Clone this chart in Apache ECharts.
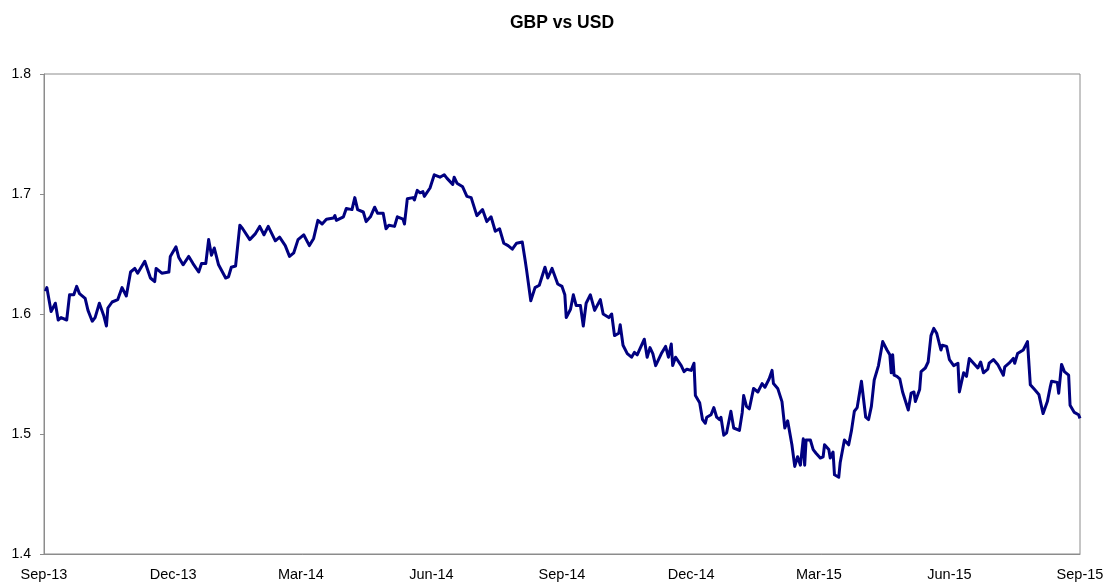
<!DOCTYPE html>
<html>
<head>
<meta charset="utf-8">
<title>GBP vs USD</title>
<script src="https://cdn.jsdelivr.net/npm/echarts@6/dist/echarts.min.js"></script>
<style>
  html, body { margin: 0; padding: 0; background: #fff; }
  #chart { width: 1108px; height: 582px; }
</style>
</head>
<body>
<div id="chart"></div>
<script>
// Observation dates and GBP/USD rates
const dates = [
  '2013-09-02','2013-09-03','2013-09-06','2013-09-09','2013-09-11','2013-09-13','2013-09-17','2013-09-19','2013-09-22','2013-09-24',
  '2013-09-26','2013-09-30','2013-10-02','2013-10-05','2013-10-07','2013-10-10','2013-10-13','2013-10-15','2013-10-16','2013-10-19',
  '2013-10-23','2013-10-26','2013-10-29','2013-11-01','2013-11-04','2013-11-06','2013-11-11','2013-11-15','2013-11-18','2013-11-19',
  '2013-11-23','2013-11-28','2013-11-29','2013-12-03','2013-12-05','2013-12-08','2013-12-12','2013-12-15','2013-12-19','2013-12-21',
  '2013-12-24','2013-12-26','2013-12-28','2013-12-30','2014-01-02','2014-01-07','2014-01-09','2014-01-11','2014-01-14','2014-01-17',
  '2014-01-19','2014-01-24','2014-01-28','2014-01-31','2014-02-03','2014-02-06','2014-02-11','2014-02-14','2014-02-18','2014-02-21',
  '2014-02-24','2014-02-27','2014-03-03','2014-03-07','2014-03-10','2014-03-13','2014-03-16','2014-03-19','2014-03-24','2014-03-25',
  '2014-03-26','2014-03-31','2014-04-02','2014-04-06','2014-04-08','2014-04-10','2014-04-14','2014-04-16','2014-04-19','2014-04-22',
  '2014-04-24','2014-04-28','2014-04-30','2014-05-02','2014-05-06','2014-05-08','2014-05-12','2014-05-13','2014-05-15','2014-05-19',
  '2014-05-20','2014-05-22','2014-05-24','2014-05-26','2014-05-27','2014-05-31','2014-06-03','2014-06-07','2014-06-10','2014-06-12',
  '2014-06-16','2014-06-17','2014-06-19','2014-06-23','2014-06-26','2014-06-29','2014-07-03','2014-07-07','2014-07-10','2014-07-13',
  '2014-07-16','2014-07-19','2014-07-22','2014-07-25','2014-07-28','2014-07-31','2014-08-04','2014-08-06','2014-08-07','2014-08-10',
  '2014-08-13','2014-08-16','2014-08-20','2014-08-22','2014-08-25','2014-08-29','2014-09-01','2014-09-03','2014-09-04','2014-09-07',
  '2014-09-09','2014-09-11','2014-09-14','2014-09-16','2014-09-18','2014-09-21','2014-09-24','2014-09-28','2014-09-30','2014-10-04',
  '2014-10-06','2014-10-08','2014-10-11','2014-10-12','2014-10-14','2014-10-17','2014-10-20','2014-10-22','2014-10-24','2014-10-29',
  '2014-10-31','2014-11-02','2014-11-04','2014-11-06','2014-11-10','2014-11-13','2014-11-15','2014-11-17','2014-11-18','2014-11-20',
  '2014-11-24','2014-11-26','2014-11-28','2014-12-01','2014-12-03','2014-12-04','2014-12-07','2014-12-09','2014-12-11','2014-12-12',
  '2014-12-15','2014-12-17','2014-12-19','2014-12-21','2014-12-22','2014-12-24','2014-12-26','2014-12-29','2014-12-31','2015-01-04',
  '2015-01-06','2015-01-07','2015-01-09','2015-01-11','2015-01-14','2015-01-17','2015-01-20','2015-01-22','2015-01-25','2015-01-27',
  '2015-01-28','2015-01-31','2015-02-03','2015-02-05','2015-02-07','2015-02-10','2015-02-12','2015-02-14','2015-02-16','2015-02-18',
  '2015-02-19','2015-02-20','2015-02-23','2015-02-25','2015-02-27','2015-03-02','2015-03-04','2015-03-05','2015-03-08','2015-03-09',
  '2015-03-11','2015-03-12','2015-03-15','2015-03-16','2015-03-19','2015-03-22','2015-03-24','2015-03-26','2015-03-28','2015-03-31',
  '2015-04-03','2015-04-05','2015-04-07','2015-04-09','2015-04-12','2015-04-15','2015-04-18','2015-04-20','2015-04-21','2015-04-22',
  '2015-04-23','2015-04-25','2015-04-27','2015-04-29','2015-05-03','2015-05-05','2015-05-07','2015-05-08','2015-05-11','2015-05-12',
  '2015-05-15','2015-05-17','2015-05-19','2015-05-21','2015-05-23','2015-05-26','2015-05-27','2015-05-30','2015-06-01','2015-06-04',
  '2015-06-07','2015-06-08','2015-06-11','2015-06-13','2015-06-15','2015-06-18','2015-06-21','2015-06-23','2015-06-25','2015-06-28',
  '2015-06-29','2015-07-02','2015-07-05','2015-07-09','2015-07-10','2015-07-13','2015-07-16','2015-07-17','2015-07-19','2015-07-23',
  '2015-07-26','2015-07-28','2015-07-31','2015-08-03','2015-08-06','2015-08-09','2015-08-11','2015-08-12','2015-08-16','2015-08-17',
  '2015-08-19','2015-08-21','2015-08-24','2015-08-25','2015-08-28','2015-08-31','2015-09-01'
];

const rates = [
  1.619,1.622,1.602,1.609,1.595,1.597,1.595,1.616,1.616,1.623,
  1.617,1.613,1.603,1.594,1.597,1.609,1.599,1.590,1.605,1.610,
  1.612,1.622,1.615,1.635,1.638,1.634,1.644,1.630,1.627,1.638,
  1.634,1.635,1.648,1.656,1.647,1.641,1.648,1.642,1.635,1.642,
  1.642,1.662,1.649,1.655,1.641,1.630,1.631,1.639,1.640,1.674,
  1.671,1.662,1.667,1.673,1.666,1.673,1.661,1.664,1.657,1.648,
  1.651,1.662,1.666,1.657,1.663,1.678,1.675,1.679,1.680,1.682,
  1.678,1.681,1.688,1.687,1.697,1.687,1.685,1.677,1.681,1.689,
  1.684,1.684,1.671,1.674,1.673,1.681,1.679,1.675,1.696,1.697,
  1.695,1.703,1.701,1.702,1.698,1.705,1.716,1.714,1.716,1.713,
  1.708,1.714,1.709,1.706,1.698,1.697,1.682,1.687,1.677,1.681,
  1.669,1.671,1.659,1.657,1.654,1.659,1.660,1.645,1.637,1.611,
  1.622,1.624,1.639,1.630,1.638,1.625,1.623,1.616,1.597,1.604,
  1.616,1.607,1.607,1.590,1.609,1.616,1.603,1.612,1.600,1.597,
  1.600,1.582,1.584,1.591,1.574,1.567,1.564,1.568,1.566,1.579,
  1.564,1.572,1.567,1.557,1.567,1.573,1.564,1.575,1.557,1.564,
  1.557,1.552,1.554,1.553,1.559,1.532,1.526,1.512,1.509,1.514,
  1.516,1.522,1.514,1.512,1.514,1.499,1.501,1.519,1.505,1.503,
  1.518,1.532,1.523,1.521,1.538,1.535,1.542,1.539,1.546,1.553,
  1.542,1.538,1.527,1.505,1.511,1.491,1.473,1.481,1.474,1.496,
  1.474,1.495,1.495,1.487,1.484,1.480,1.481,1.491,1.487,1.480,
  1.485,1.466,1.464,1.476,1.495,1.491,1.503,1.519,1.522,1.544,
  1.514,1.512,1.523,1.545,1.557,1.577,1.570,1.566,1.551,1.566,
  1.549,1.548,1.546,1.535,1.520,1.534,1.535,1.527,1.537,1.552,
  1.555,1.560,1.582,1.588,1.584,1.570,1.574,1.573,1.562,1.557,
  1.559,1.535,1.551,1.548,1.563,1.559,1.555,1.560,1.551,1.554,
  1.559,1.562,1.558,1.549,1.556,1.559,1.563,1.559,1.567,1.570,
  1.577,1.541,1.537,1.533,1.517,1.527,1.539,1.544,1.543,1.534,
  1.558,1.552,1.549,1.524,1.518,1.516,1.513
];

// Quarterly axis ticks
const tickDates = ['2013-09-01','2013-12-01','2014-03-01','2014-06-01','2014-09-01',
                   '2014-12-01','2015-03-01','2015-06-01','2015-09-01'];
const tickLabels = ['Sep-13','Dec-13','Mar-14','Jun-14','Sep-14','Dec-14','Mar-15','Jun-15','Sep-15'];

const tickTimes = tickDates.map(d => Date.parse(d));
const seriesData = dates.map((d, i) => [Date.parse(d), rates[i]]);

const FONT = '"Liberation Sans", Arial, sans-serif';

const chart = echarts.init(document.getElementById('chart'), null, { renderer: 'canvas' });
chart.setOption({
  animation: false,
  backgroundColor: '#ffffff',
  title: {
    text: 'GBP vs USD',
    left: 505,
    top: 9,
    textStyle: { fontFamily: FONT, fontSize: 17.5, fontWeight: 'bold', color: '#000000' }
  },
  grid: {
    left: 44, right: 28, top: 74, bottom: 28,
    show: true, borderColor: '#8c8c8c', borderWidth: 1, backgroundColor: 'transparent'
  },
  xAxis: {
    type: 'value',
    min: tickTimes[0],
    max: tickTimes[tickTimes.length - 1],
    axisLine: { show: true, lineStyle: { color: '#8c8c8c', width: 1 } },
    axisTick: { show: false },
    splitLine: { show: false },
    axisLabel: {
      customValues: tickTimes,
      formatter: v => { const i = tickTimes.indexOf(v); return i >= 0 ? tickLabels[i] : ''; },
      margin: 13,
      fontFamily: FONT, fontSize: 14.5, color: '#000000'
    }
  },
  yAxis: {
    type: 'value',
    min: 1.4, max: 1.8, interval: 0.1,
    axisLine: { show: true, lineStyle: { color: '#8c8c8c', width: 1 } },
    axisTick: { show: true, length: 4, lineStyle: { color: '#8c8c8c' } },
    splitLine: { show: false },
    axisLabel: {
      formatter: v => v.toFixed(1),
      margin: 13,
      fontFamily: FONT, fontSize: 14, color: '#000000'
    }
  },
  series: [{
    name: 'GBP vs USD',
    type: 'line',
    data: seriesData,
    showSymbol: false,
    smooth: false,
    lineStyle: { color: '#000080', width: 3, join: 'round' },
    itemStyle: { color: '#000080' }
  }]
});
</script>
</body>
</html>
